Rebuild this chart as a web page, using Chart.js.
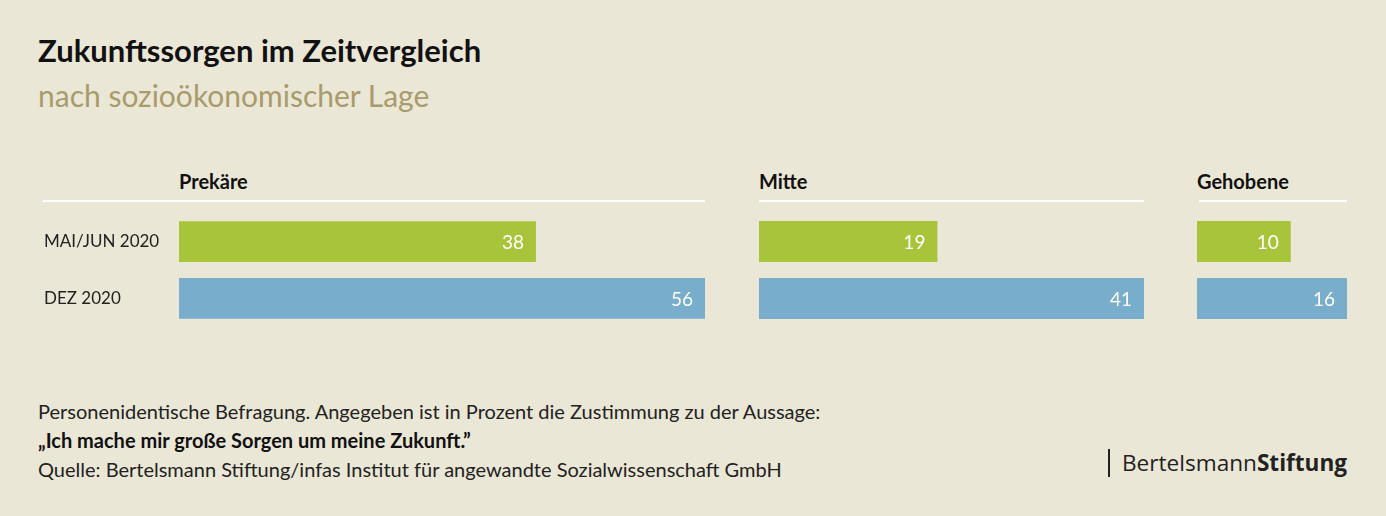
<!DOCTYPE html>
<html lang="de">
<head>
<meta charset="utf-8">
<script src="https://cdn.jsdelivr.net/npm/chart.js@4/dist/chart.umd.min.js"></script>
<style>
  html, body { margin: 0; padding: 0; }
  body { width: 1386px; height: 516px; background: #ebe7d6; position: relative; overflow: hidden; font-family: Lato, sans-serif; }
  .abs { position: absolute; white-space: nowrap; }
  #title { left: 38px; top: 31px; font-size: 31px; font-weight: 700; color: #111; }
  #subtitle { left: 38px; top: 77px; font-size: 30px; color: #a99b6b; }
  .head { top: 169px; font-size: 20px; font-weight: 700; color: #111; }
  .rule { top: 200px; height: 2px; background: #fff; }
  .note { left: 38px; font-size: 20px; color: #222; }
  #logo { left: 1108px; top: 449px; font-family: "Open Sans", sans-serif; font-size: 22.6px; color: #222; border-left: 2px solid #222; padding-left: 12px; line-height: 28px; }
  canvas { position: absolute; }
</style>
</head>
<body>
<div class="abs" id="title">Zukunftssorgen im Zeitvergleich</div>
<div class="abs" id="subtitle">nach sozioökonomischer Lage</div>

<div class="abs head" style="left:179px">Prekäre</div>
<div class="abs head" style="left:759px">Mitte</div>
<div class="abs head" style="left:1197px">Gehobene</div>
<div class="abs rule" style="left:43px;width:662px"></div>
<div class="abs rule" style="left:759px;width:385px"></div>
<div class="abs rule" style="left:1199px;width:148px"></div>

<canvas id="c1" style="left:0px;top:200px" width="720" height="140"></canvas>
<canvas id="c2" style="left:759px;top:200px" width="400" height="140"></canvas>
<canvas id="c3" style="left:1197px;top:200px" width="165" height="140"></canvas>

<div class="abs note" style="top:399px">Personenidentische Befragung. Angegeben ist in Prozent die Zustimmung zu der Aussage:</div>
<div class="abs note" style="top:428px;font-weight:700;color:#111">„Ich mache mir große Sorgen um meine Zukunft.”</div>
<div class="abs note" style="top:457px">Quelle: Bertelsmann Stiftung/infas Institut für angewandte Sozialwissenschaft GmbH</div>
<div class="abs" id="logo">Bertelsmann<b>Stiftung</b></div>

<script>
// Zeitpunkte (Kategorien)
const periods = ['MAI/JUN 2020', 'DEZ 2020'];
const barColors = ['#a8c43a', '#78aecb'];

// Zustimmung in Prozent je Lage
const prekaere = [38, 56];
const mitte = [19, 41];
const gehobene = [10, 16];

// Werte weiß rechts in die Balken schreiben
const valueLabels = {
    id: 'valueLabels',
    afterDatasetsDraw(chart) {
        const ctx = chart.ctx;
        const meta = chart.getDatasetMeta(0);
        ctx.save();
        ctx.fillStyle = '#ffffff';
        ctx.font = '19px Lato';
        ctx.textAlign = 'right';
        ctx.textBaseline = 'middle';
        meta.data.forEach((bar, i) => {
            ctx.fillText(chart.data.datasets[0].data[i], bar.x - 12, bar.y + 1);
        });
        ctx.restore();
    }
};

function makeChart(id, values, showLabels) {
    const ctx = document.getElementById(id).getContext('2d');
    const yAxis = {
        display: showLabels,
        grid: { display: false },
        border: { display: false },
        ticks: { crossAlign: 'far', color: '#222', font: { family: 'Lato', size: 17 } }
    };
    if (showLabels) yAxis.afterFit = scale => { scale.width = 135; };

    return new Chart(ctx, {
        type: 'bar',
        data: {
            labels: periods,
            datasets: [{
                data: values,
                backgroundColor: barColors,
                borderWidth: 0,
                barPercentage: 0.72,
                categoryPercentage: 1
            }]
        },
        options: {
            indexAxis: 'y',
            responsive: false,
            animation: false,
            layout: { padding: { top: 13, bottom: 13, left: showLabels ? 44 : 0, right: 15 } },
            plugins: { legend: { display: false }, tooltip: { enabled: false } },
            scales: {
                x: { display: false, min: 0, max: Math.max(...values) },
                y: yAxis
            }
        },
        plugins: [valueLabels]
    });
}

makeChart('c1', prekaere, true);
makeChart('c2', mitte, false);
makeChart('c3', gehobene, false);
</script>
</body>
</html>
